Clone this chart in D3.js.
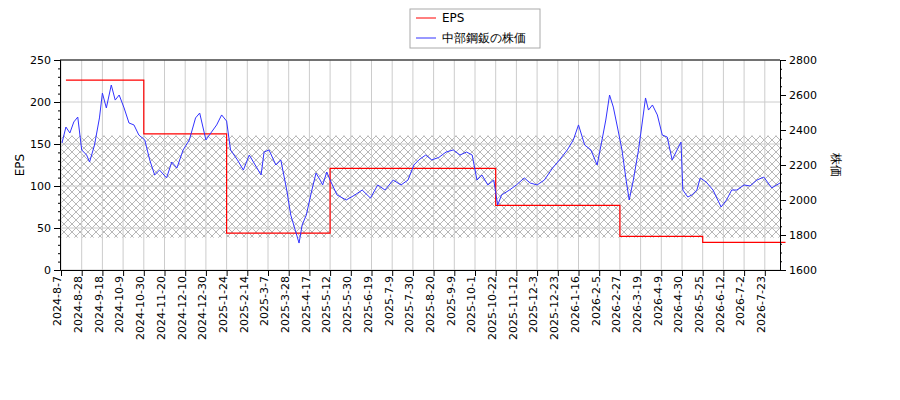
<!DOCTYPE html>
<html><head><meta charset="utf-8">
<script src="https://cdn.jsdelivr.net/npm/d3@7"></script>
<style>body{margin:0;background:#fff;font-family:"DejaVu Sans",sans-serif}</style>
</head><body><svg id="c" width="900" height="400"></svg>
<script>
const tickLabels = ["2024-8-7","2024-8-28","2024-9-18","2024-10-9","2024-10-30","2024-11-20","2024-12-10","2024-12-30","2025-1-24","2025-2-14","2025-3-7","2025-3-28","2025-4-17","2025-5-12","2025-5-30","2025-6-19","2025-7-9","2025-7-30","2025-8-20","2025-9-9","2025-10-1","2025-10-22","2025-11-12","2025-12-3","2025-12-23","2026-1-16","2026-2-5","2026-2-27","2026-3-19","2026-4-9","2026-4-30","2026-5-25","2026-6-12","2026-7-2","2026-7-23","2026-8-7"];
const epsSteps = [
  ["2024-8-12", 226], ["2024-10-30", 162], ["2025-1-24", 44], ["2025-5-12", 121],
  ["2025-10-22", 77], ["2026-2-27", 40], ["2026-5-25", 33], ["2026-8-7", 33]
];
const priceDates = ["2024-8-8","2024-8-12","2024-8-16","2024-8-20","2024-8-24","2024-8-28","2024-9-2","2024-9-5","2024-9-10","2024-9-15","2024-9-18","2024-9-22","2024-9-27","2024-10-1","2024-10-5","2024-10-10","2024-10-15","2024-10-20","2024-10-25","2024-10-31","2024-11-5","2024-11-10","2024-11-15","2024-11-22","2024-11-27","2024-12-2","2024-12-8","2024-12-14","2024-12-20","2024-12-24","2024-12-30","2025-1-5","2025-1-12","2025-1-18","2025-1-24","2025-1-28","2025-2-4","2025-2-10","2025-2-16","2025-2-22","2025-2-28","2025-3-3","2025-3-8","2025-3-15","2025-3-20","2025-3-26","2025-3-30","2025-4-7","2025-4-10","2025-4-14","2025-4-20","2025-4-25","2025-4-30","2025-5-3","2025-5-8","2025-5-12","2025-5-18","2025-5-26","2025-6-3","2025-6-10","2025-6-18","2025-6-25","2025-7-2","2025-7-10","2025-7-18","2025-7-25","2025-7-31","2025-8-5","2025-8-12","2025-8-18","2025-8-25","2025-9-1","2025-9-8","2025-9-15","2025-9-22","2025-9-28","2025-10-3","2025-10-8","2025-10-14","2025-10-20","2025-10-24","2025-10-28","2025-11-5","2025-11-12","2025-11-20","2025-11-26","2025-12-3","2025-12-10","2025-12-18","2025-12-25","2026-1-3","2026-1-10","2026-1-16","2026-1-22","2026-1-28","2026-2-3","2026-2-8","2026-2-12","2026-2-16","2026-2-20","2026-2-25","2026-3-1","2026-3-5","2026-3-8","2026-3-12","2026-3-17","2026-3-21","2026-3-24","2026-3-27","2026-3-31","2026-4-5","2026-4-10","2026-4-15","2026-4-20","2026-4-25","2026-4-29","2026-5-1","2026-5-7","2026-5-12","2026-5-18","2026-5-22","2026-5-28","2026-6-3","2026-6-10","2026-6-15","2026-6-20","2026-6-25","2026-7-2","2026-7-8","2026-7-15","2026-7-22","2026-7-28","2026-8-3"];
const priceValues = [2326,2417,2383,2446,2474,2286,2257,2217,2314,2469,2611,2526,2657,2571,2600,2526,2440,2429,2371,2343,2229,2143,2171,2126,2217,2183,2286,2343,2469,2497,2343,2383,2429,2486,2451,2286,2229,2171,2257,2200,2143,2274,2286,2200,2229,2057,1914,1754,1857,1914,2057,2154,2114,2086,2160,2114,2029,2000,2029,2057,2011,2086,2057,2114,2086,2114,2200,2229,2257,2229,2243,2274,2286,2257,2274,2257,2114,2143,2086,2114,1971,2029,2057,2086,2126,2097,2086,2114,2183,2229,2286,2343,2429,2314,2286,2200,2343,2457,2600,2531,2400,2286,2114,2000,2114,2286,2457,2583,2514,2543,2486,2371,2360,2229,2286,2331,2057,2017,2029,2057,2126,2103,2057,1960,2000,2057,2057,2086,2080,2114,2131,2069,2097];
const hatchBand = [38.5, 160];

const parse = d3.timeParse("%Y-%m-%d");
const fmt = d => `${d.getFullYear()}-${d.getMonth()+1}-${d.getDate()}`;
const margin = {top: 60, left: 60, right: 120, bottom: 130};
const W = 900 - margin.left - margin.right, H = 400 - margin.top - margin.bottom;
const svg = d3.select("#c");
const g = svg.append("g").attr("transform", `translate(${margin.left},${margin.top})`);

// trading-day axis: ticks evenly spaced, dates between them interpolated
const tickDates = tickLabels.map(parse);
const step = 20.7;
const x = d3.scaleTime().domain(tickDates).range(tickDates.map((d, i) => 1 + i * step));
const y = d3.scaleLinear().domain([0, 250]).range([H, 0]);
const y2 = d3.scaleLinear().domain([1600, 2800]).range([H, 0]);
const ticks = tickDates.slice(0, -1);

// hatch
const defs = svg.append("defs");
const pat = defs.append("pattern").attr("id", "hx").attr("patternUnits", "userSpaceOnUse").attr("width", 8).attr("height", 8);
pat.append("path").attr("d", "M0,0L8,8M8,0L0,8").attr("stroke", "#999").attr("stroke-width", 0.7);
g.append("rect").attr("x", 0).attr("width", W).attr("y", y(hatchBand[1])).attr("height", y(hatchBand[0]) - y(hatchBand[1])).attr("fill", "url(#hx)");

// grid
g.selectAll(".vg").data(ticks).enter().append("line").attr("x1", d => x(d)).attr("x2", d => x(d)).attr("y1", 0).attr("y2", H).attr("stroke", "#ccc");
g.selectAll(".hg").data(d3.range(0, 251, 50)).enter().append("line").attr("x1", 0).attr("x2", W).attr("y1", d => y(d)).attr("y2", d => y(d)).attr("stroke", "#ccc");

const epsData = epsSteps.map(d => ({d: parse(d[0]), v: d[1]}));
g.append("path").datum(epsData).attr("fill", "none").attr("stroke", "#f00").attr("stroke-width", 1.2)
  .attr("d", d3.line().x(d => x(d.d)).y(d => y(d.v)).curve(d3.curveStepAfter));

const priceData = priceDates.map((d, i) => ({d: parse(d), v: priceValues[i]}));
g.append("path").datum(priceData).attr("fill", "none").attr("stroke", "#33f").attr("stroke-width", 1)
  .attr("d", d3.line().x(d => x(d.d)).y(d => y2(d.v)));

// axes
const ax = g.append("g").attr("transform", `translate(0,${H})`).call(d3.axisBottom(x).tickValues(ticks).tickFormat(fmt).tickSizeOuter(0));
ax.selectAll("text").attr("transform", "rotate(-90)").attr("text-anchor", "end").attr("x", -6).attr("y", -4).attr("dy", "0.35em");
g.append("g").call(d3.axisLeft(y).tickValues(d3.range(0, 251, 50)).tickSizeOuter(0));
g.append("g").call(d3.axisLeft(y).tickValues(d3.range(0, 251, 10)).tickSize(2).tickFormat(""));
g.append("g").attr("transform", `translate(${W},0)`).call(d3.axisRight(y2).tickValues(d3.range(1600, 2801, 200)).tickFormat(d3.format("d")).tickSizeOuter(0));
g.append("g").attr("transform", `translate(${W},0)`).call(d3.axisRight(y2).tickValues(d3.range(1600, 2801, 50)).tickSize(2).tickFormat(""));
g.append("line").attr("x1", 0).attr("x2", W).attr("stroke", "#000");
g.selectAll(".tick text").attr("font-size", 11).attr("font-family", "DejaVu Sans").attr("fill", "#000");
g.selectAll(".domain").attr("stroke", "#000");

svg.append("text").attr("transform", `translate(24,${margin.top + H/2}) rotate(-90)`).attr("text-anchor", "middle").attr("font-size", 12).text("EPS");
svg.append("text").attr("transform", `translate(832,${margin.top + H/2}) rotate(90)`).attr("text-anchor", "middle").attr("font-size", 12).text("株価");

// legend
const lg = svg.append("g").attr("transform", "translate(410,9)");
lg.append("rect").attr("width", 130).attr("height", 39).attr("fill", "#fff").attr("stroke", "#aaa");
[["EPS", "#f00"], ["中部鋼鈑の株価", "#33f"]].forEach((e, i) => {
  lg.append("line").attr("x1", 6).attr("x2", 26).attr("y1", 9 + i * 20).attr("y2", 9 + i * 20).attr("stroke", e[1]);
  lg.append("text").attr("x", 32).attr("y", 13 + i * 20).attr("font-size", 12).text(e[0]);
});
</script></body></html>
